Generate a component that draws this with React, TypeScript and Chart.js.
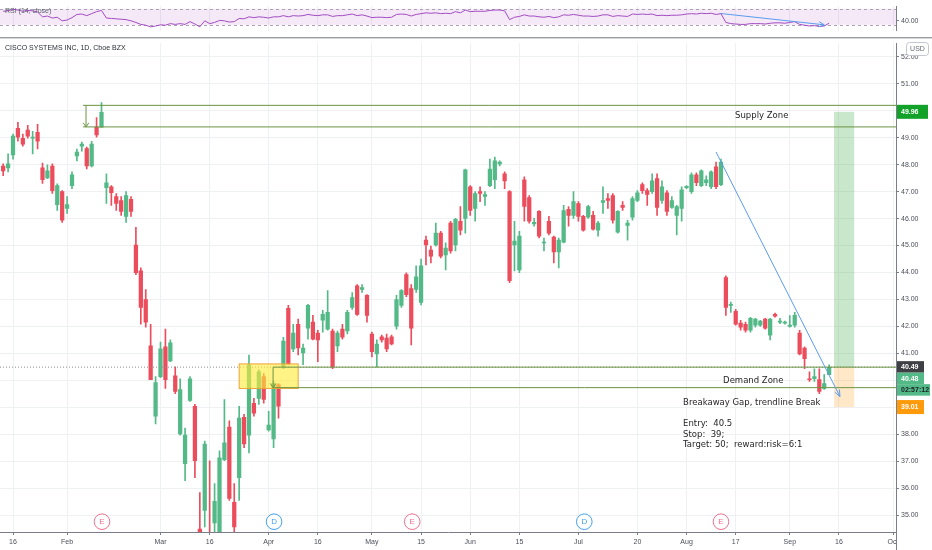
import React, { useEffect, useRef } from "react";
import { Chart, registerables } from "chart.js";

Chart.register(...registerables);

// ---------- DATA ----------
const OPEN = [
  47.95, 47.88, 48.36, 49.35, 48.98, 49.28, 48.98, 49.20, 47.88, 47.51,
  47.95, 46.52, 47.00, 46.38, 47.22, 48.32, 48.69, 48.60, 47.95, 49.39,
  49.39, 47.15, 47.18, 46.82, 46.67, 46.08, 46.71, 45.02, 44.06, 43.00,
  41.28, 38.67, 40.14, 41.24, 40.72, 40.17, 38.01, 36.91, 39.26, 39.04,
  34.48, 35.18, 34.10, 34.71, 34.30, 37.06, 38.27, 35.48, 36.39, 38.63,
  37.97, 39.15, 39.33, 40.14, 38.16, 37.83, 39.84, 40.50, 42.67, 41.17,
  42.08, 41.02, 41.94, 42.16, 41.75, 42.23, 41.90, 41.83, 41.28, 41.90,
  41.83, 42.71, 43.51, 43.37, 43.15, 41.72, 40.98, 41.61, 41.57, 41.61,
  42.01, 42.78, 43.92, 43.40, 43.37, 42.89, 45.20, 44.83, 45.02, 45.46,
  44.65, 45.83, 45.02, 45.90, 46.01, 47.18, 46.38, 47.00, 46.82, 47.22,
  47.44, 48.03, 47.66, 47.00, 45.02, 44.10, 47.44, 46.78, 45.80, 46.27,
  45.10, 45.90, 45.31, 44.76, 45.13, 46.34, 46.12, 46.56, 46.08, 46.05,
  46.12, 45.57, 46.60, 46.74, 46.85, 45.50, 46.49, 45.75, 46.05, 46.67,
  47.26, 47.04, 47.00, 47.48, 46.67, 46.96, 46.41, 46.12, 46.38, 47.15,
  47.00, 47.62, 47.22, 47.33, 47.18, 47.92, 47.26, 43.81, 42.78, 42.56,
  42.12, 42.08, 41.86, 42.05, 42.05, 42.27, 41.68, 42.45, 42.16, 42.12,
  42.00, 42.05, 41.75, 41.20, 40.06, 40.06, 40.03, 39.70, 40.21,
];
const HIGH = [
  48.03, 48.40, 49.13, 49.57, 49.13, 49.46, 49.24, 49.50, 48.06, 47.99,
  48.03, 47.29, 47.04, 46.82, 47.73, 48.58, 48.84, 48.65, 48.87, 49.75,
  50.30, 47.66, 47.22, 46.93, 46.82, 47.00, 46.82, 45.68, 44.17, 43.37,
  42.08, 40.14, 41.42, 41.90, 41.50, 40.50, 40.06, 38.23, 40.14, 39.11,
  35.84, 37.75, 37.02, 36.17, 37.39, 39.29, 38.50, 36.17, 39.04, 38.74,
  40.94, 39.33, 40.39, 40.25, 38.85, 39.96, 39.88, 41.60, 42.78, 42.08,
  42.27, 41.35, 42.82, 42.41, 41.86, 42.60, 43.33, 41.90, 41.83, 42.08,
  42.60, 43.26, 43.55, 43.55, 43.18, 41.79, 41.50, 41.68, 41.72, 41.68,
  43.15, 43.37, 43.99, 43.55, 44.25, 44.50, 45.35, 44.98, 45.83, 45.53,
  45.10, 45.90, 46.01, 46.45, 47.84, 47.22, 47.00, 47.18, 47.00, 48.21,
  48.28, 48.14, 47.73, 47.04, 45.90, 45.53, 47.55, 46.85, 46.01, 46.30,
  45.28, 46.08, 45.35, 45.28, 46.49, 46.45, 47.00, 46.63, 46.12, 46.49,
  46.27, 45.90, 47.18, 46.93, 46.93, 46.30, 46.63, 45.94, 46.82, 47.04,
  47.33, 47.11, 47.66, 47.66, 47.40, 47.04, 46.82, 46.49, 47.18, 47.22,
  47.70, 47.70, 47.81, 47.59, 47.77, 48.10, 48.21, 43.88, 42.90, 42.63,
  42.23, 42.16, 42.34, 42.30, 42.23, 42.30, 42.30, 42.50, 42.30, 42.20,
  42.40, 42.52, 41.86, 41.24, 40.32, 40.43, 40.43, 40.21, 40.58,
];
const LOW = [
  47.59, 47.73, 48.20, 48.87, 48.69, 48.98, 48.40, 48.58, 47.30, 47.48,
  46.93, 46.30, 45.86, 46.19, 47.11, 48.14, 48.50, 47.84, 47.92, 49.02,
  49.39, 46.56, 46.49, 46.30, 46.12, 45.86, 46.08, 43.92, 42.08, 41.97,
  40.03, 38.38, 40.10, 39.70, 40.69, 39.51, 37.97, 36.28, 39.22, 36.39,
  34.00, 34.56, 33.20, 34.30, 34.00, 37.02, 35.55, 34.20, 35.55, 37.50,
  37.31, 38.67, 39.11, 39.15, 38.12, 37.50, 38.60, 40.43, 40.58, 41.06,
  40.94, 40.58, 41.53, 41.50, 40.69, 41.79, 41.86, 40.43, 41.06, 41.53,
  41.72, 42.63, 42.41, 43.26, 42.16, 40.87, 40.50, 41.42, 41.06, 41.31,
  41.90, 42.71, 43.10, 41.31, 43.26, 42.80, 44.28, 44.36, 44.98, 44.54,
  44.10, 44.72, 44.80, 45.39, 45.46, 46.12, 45.90, 46.63, 46.49, 47.18,
  47.11, 47.95, 47.11, 43.62, 44.06, 43.99, 45.90, 45.83, 45.72, 45.28,
  44.80, 45.39, 44.36, 44.17, 45.10, 45.72, 46.01, 45.90, 45.53, 46.01,
  45.57, 45.35, 46.19, 46.38, 45.83, 45.46, 46.30, 45.20, 45.94, 46.63,
  46.93, 46.49, 46.93, 46.12, 46.56, 46.12, 46.38, 45.39, 45.90, 47.11,
  46.93, 47.22, 47.18, 47.22, 47.11, 47.11, 47.22, 42.41, 42.52, 42.05,
  41.86, 41.79, 41.79, 41.97, 42.00, 41.90, 41.50, 42.34, 42.10, 42.08,
  41.97, 41.97, 40.94, 40.43, 39.96, 39.96, 39.51, 39.66, 40.21,
];
const CLOSE = [
  47.77, 48.03, 49.06, 49.02, 48.76, 49.06, 49.02, 48.87, 47.44, 47.77,
  47.04, 47.22, 45.94, 46.52, 47.62, 48.47, 48.76, 47.95, 48.76, 49.10,
  49.94, 47.33, 46.96, 46.56, 46.27, 46.85, 46.27, 43.99, 42.71, 42.16,
  40.03, 39.92, 41.17, 40.03, 41.39, 39.59, 39.66, 37.97, 40.06, 37.02,
  34.20, 37.64, 33.60, 35.51, 37.13, 37.68, 35.62, 34.56, 38.60, 37.64,
  40.58, 38.78, 40.32, 39.29, 38.34, 39.88, 39.04, 41.46, 40.61, 41.75,
  41.20, 41.20, 42.78, 41.53, 41.50, 42.45, 42.52, 40.50, 41.75, 41.60,
  42.52, 43.07, 42.45, 43.44, 42.41, 41.06, 41.35, 41.50, 41.17, 41.35,
  43.00, 43.33, 43.18, 41.94, 43.84, 44.25, 45.02, 44.61, 45.46, 44.61,
  44.91, 44.80, 45.97, 45.57, 47.81, 46.30, 46.93, 46.93, 46.89, 47.84,
  48.14, 48.10, 47.40, 43.70, 45.17, 45.35, 46.45, 45.90, 45.86, 45.35,
  45.13, 45.46, 44.76, 45.20, 46.30, 46.12, 46.63, 46.08, 45.57, 46.45,
  45.61, 45.83, 46.67, 46.67, 45.94, 46.27, 46.41, 45.83, 46.74, 46.96,
  47.04, 46.90, 47.40, 46.41, 47.18, 46.27, 46.67, 46.45, 47.07, 47.20,
  47.62, 47.33, 47.77, 47.44, 47.73, 47.18, 48.10, 42.71, 42.82, 42.08,
  41.97, 41.86, 42.30, 42.27, 42.20, 41.94, 42.27, 42.38, 42.20, 42.16,
  42.05, 42.41, 40.98, 40.80, 40.03, 40.14, 39.59, 39.88, 40.48,
];
const RSI = [
  64, 65, 69, 67, 64, 66, 65, 62, 50, 52,
  47, 49, 40, 42, 48, 56, 57, 53, 58, 63,
  66, 47, 46, 45, 44, 43, 40, 36, 31, 29,
  25, 27, 30, 29, 33, 31, 33, 31, 38, 32,
  25, 40, 33, 36, 41, 40, 37, 38, 46, 45,
  50, 48, 50, 49, 47, 50, 50, 53, 50, 53,
  52, 53, 56, 54, 53, 55, 55, 51, 53, 53,
  55, 57, 53, 55, 52, 48, 49, 49, 48, 49,
  56, 57, 56, 52, 56, 58, 60, 59, 60, 58,
  59, 58, 63, 60, 67, 63, 64, 64, 64, 66,
  67, 67, 65, 43, 49, 51, 55, 52, 52, 50,
  49, 51, 48, 50, 55, 54, 56, 54, 52, 52,
  51, 52, 55, 55, 51, 53, 52, 51, 57, 56,
  57, 56, 57, 53, 54, 53, 54, 54, 55, 57,
  58, 57, 59, 58, 59, 56, 58, 36, 33, 32,
  31, 31, 33, 33, 33, 32, 34, 35, 35, 34,
  36, 38, 31, 29, 27, 28, 26, 27, 34,
];

// trading-day index of each time-axis label
const X_TICKS = [2, 13, 32, 42, 54, 64, 75, 85, 95, 105, 117, 129, 139, 149, 160, 170, 181];
const X_TICK_LABELS = ["16", "Feb", "Mar", "16", "Apr", "16", "May", "15", "Jun", "15", "Jul", "20", "Aug", "17", "Sep", "16", "Oct"];
const PRICE_TICKS = [35, 36, 37, 38, 39, 40, 41, 42, 43, 44, 45, 46, 47, 48, 49, 50, 51, 52];

// drawings (in index / price units)
const SUPPLY_TOP = 50.2;
const SUPPLY_BOTTOM = 49.4;
const SUPPLY_START = 16.25;
const SUPPLY_ARROW_X = 16.85;
const DEMAND_TOP = 40.49;
const DEMAND_BOTTOM = 39.73;
const DEMAND_START = 54.9;
const GAP_BOX = { x0: 48.0, x1: 60.0, top: 40.61, bottom: 39.7 };
const TREND = { x0: 145.0, y0: 48.47, x1: 170.2, y1: 39.4 };
const RSI_TREND = { x0: 146.0, y0: 58.3, x1: 167.0, y1: 30 };
const TARGET = 49.96;
const ENTRY = 40.49;
const STOP = 39.01;
const LAST = 40.48;
const POS_X0 = 169.0;
const POS_X1 = 173.1;
const EVENTS = [
  { i: 20.1, t: "E" },
  { i: 55.1, t: "D" },
  { i: 83.2, t: "E" },
  { i: 118.2, t: "D" },
  { i: 146.0, t: "E" },
];
const NOTES = [
  { i: 148.87, p: 49.83, text: "Supply Zone" },
  { i: 146.43, p: 39.99, text: "Demand Zone" },
  { i: 138.29, p: 39.18, text: "Breakaway Gap, trendline Break" },
  { i: 138.29, p: 38.39, text: "Entry:  40.5" },
  { i: 138.29, p: 37.99, text: "Stop:  39;" },
  { i: 138.29, p: 37.61, text: "Target: 50;  reward:risk=6:1" },
];

// ---------- STYLE ----------
const X_MIN = -0.645;
const X_MAX = 181.6;
const Y_MIN = 34.376;
const Y_MAX = 52.505;
const UP = "#53b987";
const DOWN = "#eb4d5c";
const AXIS_FONT = "'Liberation Sans', Arial, sans-serif";
const NOTE_FONT = "'DejaVu Sans', Verdana, sans-serif";
const GRID = "#eef0f4";
const AXIS_LINE = "#7b7e88";
const LABEL = "#4c4f5a";
const ZONE = "#6b9440";
const TRENDC = "#5a9cf0";

function arrowHead(ctx: CanvasRenderingContext2D, x1: number, y1: number, x2: number, y2: number, len = 6, ang = 0.45) {
  const a = Math.atan2(y2 - y1, x2 - x1);
  ctx.beginPath();
  ctx.moveTo(x2 - len * Math.cos(a - ang), y2 - len * Math.sin(a - ang));
  ctx.lineTo(x2, y2);
  ctx.lineTo(x2 - len * Math.cos(a + ang), y2 - len * Math.sin(a + ang));
  ctx.stroke();
}
function seg(ctx: CanvasRenderingContext2D, x1: number, y1: number, x2: number, y2: number) {
  ctx.beginPath();
  ctx.moveTo(x1, y1);
  ctx.lineTo(x2, y2);
  ctx.stroke();
}
function priceBox(ctx: CanvasRenderingContext2D, y: number, h: number, w: number, fill: string, text: string, color: string) {
  ctx.fillStyle = fill;
  ctx.fillRect(897, y, w, h);
  ctx.fillStyle = color;
  ctx.font = `bold 7px ${AXIS_FONT}`;
  ctx.textAlign = "left";
  ctx.textBaseline = "middle";
  ctx.fillText(text, 901, y + h / 2 + 0.5);
}

const candleColor = (i: number) => (CLOSE[i] >= OPEN[i] ? UP : DOWN);

const mainPlugin = {
  id: "mainDrawings",
  beforeDatasetsDraw(chart: any) {
    const { ctx, scales } = chart;
    const px = (v: number) => scales.x.getPixelForValue(v);
    const py = (v: number) => scales.y.getPixelForValue(v);
    ctx.save();
    ctx.fillStyle = "rgba(76,175,80,0.3)";
    ctx.fillRect(px(POS_X0), py(TARGET), px(POS_X1) - px(POS_X0), py(ENTRY) - py(TARGET));
    ctx.fillStyle = "rgba(255,152,0,0.22)";
    ctx.fillRect(px(POS_X0), py(ENTRY), px(POS_X1) - px(POS_X0), py(STOP) - py(ENTRY));
    ctx.restore();
  },
  afterDatasetsDraw(chart: any) {
    const { ctx, chartArea: ca, scales } = chart;
    const px = (v: number) => scales.x.getPixelForValue(v);
    const py = (v: number) => scales.y.getPixelForValue(v);
    ctx.save();
    ctx.beginPath();
    ctx.rect(ca.left, ca.top, ca.right - ca.left, ca.bottom - ca.top);
    ctx.clip();

    // horizontal dotted line at entry
    ctx.strokeStyle = "#8d9099";
    ctx.lineWidth = 1;
    ctx.setLineDash([1, 2]);
    seg(ctx, ca.left, py(ENTRY), ca.right, py(ENTRY));
    ctx.setLineDash([]);

    // gap box
    const bx0 = px(GAP_BOX.x0), bx1 = px(GAP_BOX.x1), by0 = py(GAP_BOX.top), by1 = py(GAP_BOX.bottom);
    ctx.fillStyle = "rgba(255,236,60,0.62)";
    ctx.fillRect(bx0, by0, bx1 - bx0, by1 - by0);
    ctx.strokeStyle = "#eda43a";
    ctx.strokeRect(bx0, by0, bx1 - bx0, by1 - by0);

    // zones
    ctx.strokeStyle = ZONE;
    ctx.lineWidth = 1;
    seg(ctx, px(SUPPLY_START), py(SUPPLY_TOP), ca.right, py(SUPPLY_TOP));
    seg(ctx, px(SUPPLY_START), py(SUPPLY_BOTTOM), ca.right, py(SUPPLY_BOTTOM));
    seg(ctx, px(SUPPLY_ARROW_X), py(SUPPLY_TOP), px(SUPPLY_ARROW_X), py(SUPPLY_BOTTOM));
    arrowHead(ctx, px(SUPPLY_ARROW_X), py(SUPPLY_TOP), px(SUPPLY_ARROW_X), py(SUPPLY_BOTTOM), 5, 0.6);
    seg(ctx, px(DEMAND_START), py(DEMAND_TOP), ca.right, py(DEMAND_TOP));
    seg(ctx, px(DEMAND_START), py(DEMAND_BOTTOM), ca.right, py(DEMAND_BOTTOM));
    seg(ctx, px(DEMAND_START), py(DEMAND_TOP), px(DEMAND_START), py(DEMAND_BOTTOM));
    arrowHead(ctx, px(DEMAND_START), py(DEMAND_TOP), px(DEMAND_START), py(DEMAND_BOTTOM), 5, 0.6);

    // trendline
    ctx.strokeStyle = TRENDC;
    seg(ctx, px(TREND.x0), py(TREND.y0), px(TREND.x1), py(TREND.y1));
    arrowHead(ctx, px(TREND.x0), py(TREND.y0), px(TREND.x1), py(TREND.y1), 7, 0.4);

    // notes
    ctx.fillStyle = "#262626";
    ctx.font = `8.5px ${NOTE_FONT}`;
    ctx.textAlign = "left";
    ctx.textBaseline = "middle";
    NOTES.forEach((n) => ctx.fillText(n.text, px(n.i), py(n.p)));

    // event markers
    const ey = ca.bottom - 10.3;
    EVENTS.forEach((e) => {
      const c = e.t === "E" ? "#ec6f8e" : "#3f9ff0";
      ctx.beginPath();
      ctx.arc(px(e.i), ey, 7.8, 0, Math.PI * 2);
      ctx.fillStyle = "#ffffff";
      ctx.fill();
      ctx.strokeStyle = c;
      ctx.lineWidth = 1;
      ctx.stroke();
      ctx.fillStyle = c;
      ctx.font = `8px ${AXIS_FONT}`;
      ctx.textAlign = "center";
      ctx.fillText(e.t, px(e.i), ey + 0.5);
    });

    // title
    ctx.fillStyle = "#2a2e39";
    ctx.font = `7px ${AXIS_FONT}`;
    ctx.textAlign = "left";
    ctx.fillText("CISCO SYSTEMS INC, 1D, Cboe BZX", 5, 11);
    ctx.restore();
  },
  afterDraw(chart: any) {
    const { ctx, chartArea: ca, scales } = chart;
    const py = (v: number) => scales.y.getPixelForValue(v);
    ctx.save();
    // pane separator
    ctx.fillStyle = "#9a9ca3";
    ctx.fillRect(0, 0, chart.width, 1.4);
    // clip the last time label at the price axis
    ctx.fillStyle = "#ffffff";
    ctx.fillRect(ca.right + 0.6, ca.bottom + 1, chart.width - ca.right, chart.height - ca.bottom);
    ctx.fillStyle = AXIS_LINE;
    ctx.fillRect(ca.right, ca.bottom, 1, chart.height - ca.bottom);

    // price labels
    priceBox(ctx, py(TARGET) - 7, 14, 31, "#12a22a", TARGET.toFixed(2), "#ffffff");
    const ey = py(ENTRY);
    priceBox(ctx, ey - 6, 11.5, 27, "#3e3f44", ENTRY.toFixed(2), "#ffffff");
    priceBox(ctx, ey + 5.5, 11.5, 27, UP, LAST.toFixed(2), "#ffffff");
    priceBox(ctx, ey + 17, 11.5, 33, UP, "02:57:12", "#1d1f24");
    priceBox(ctx, py(STOP) - 7, 14, 27, "#ff9a0a", STOP.toFixed(2), "#ffffff");

    // currency
    ctx.fillStyle = "#ffffff";
    ctx.strokeStyle = "#c3c6ce";
    ctx.lineWidth = 1;
    ctx.beginPath();
    (ctx as any).roundRect(906.5, 5.5, 22, 13, 3);
    ctx.fill();
    ctx.stroke();
    ctx.fillStyle = "#6a6d78";
    ctx.font = `7px ${AXIS_FONT}`;
    ctx.textAlign = "center";
    ctx.textBaseline = "middle";
    ctx.fillText("USD", 917.5, 12.5);
    ctx.restore();
  },
};

const rsiPlugin = {
  id: "rsiDrawings",
  beforeDatasetsDraw(chart: any) {
    const { ctx, chartArea: ca, scales } = chart;
    const py = (v: number) => scales.y.getPixelForValue(v);
    ctx.save();
    ctx.fillStyle = "rgba(156,39,176,0.1)";
    ctx.fillRect(ca.left, py(70), ca.right - ca.left, py(30) - py(70));
    ctx.strokeStyle = "#aaa2b4";
    ctx.lineWidth = 1;
    ctx.setLineDash([3, 3]);
    seg(ctx, ca.left, Math.round(py(70)) + 0.5, ca.right, Math.round(py(70)) + 0.5);
    seg(ctx, ca.left, Math.round(py(30)) + 0.5, ca.right, Math.round(py(30)) + 0.5);
    ctx.restore();
  },
  afterDatasetsDraw(chart: any) {
    const { ctx, scales } = chart;
    const px = (v: number) => scales.x.getPixelForValue(v);
    const py = (v: number) => scales.y.getPixelForValue(v);
    ctx.save();
    ctx.strokeStyle = TRENDC;
    ctx.lineWidth = 1;
    seg(ctx, px(RSI_TREND.x0), py(RSI_TREND.y0), px(RSI_TREND.x1), py(RSI_TREND.y1));
    arrowHead(ctx, px(RSI_TREND.x0), py(RSI_TREND.y0), px(RSI_TREND.x1), py(RSI_TREND.y1), 6, 0.45);
    ctx.fillStyle = "#5d606b";
    ctx.font = `7px ${AXIS_FONT}`;
    ctx.textAlign = "left";
    ctx.textBaseline = "middle";
    ctx.fillText("RSI (14, close)", 5, 11);
    ctx.restore();
  },
};

export default function App() {
  const rsiRef = useRef<HTMLCanvasElement>(null);
  const mainRef = useRef<HTMLCanvasElement>(null);

  useEffect(() => {
    document.body.style.margin = "0";
    document.body.style.background = "#ffffff";
    const idx = OPEN.map((_, i) => i);

    const xTicksCallback = (v: any) => {
      const k = X_TICKS.indexOf(Number(v));
      return k >= 0 ? X_TICK_LABELS[k] : "";
    };

    const rsiChart = new Chart(rsiRef.current as HTMLCanvasElement, {
      type: "line",
      data: {
        datasets: [
          {
            data: RSI.map((v, i) => ({ x: i, y: v })),
            borderColor: "#a24cc2",
            borderWidth: 1,
            pointRadius: 0,
            tension: 0,
            fill: false,
          },
        ],
      },
      options: {
        animation: false,
        responsive: false,
        devicePixelRatio: 1,
        layout: { padding: 0 },
        plugins: { legend: { display: false }, tooltip: { enabled: false } },
        events: [],
        scales: {
          x: {
            type: "linear",
            min: X_MIN,
            max: X_MAX,
            afterBuildTicks: (s: any) => {
              s.ticks = X_TICKS.map((v) => ({ value: v }));
            },
            ticks: { display: false },
            grid: { color: GRID, drawTicks: false },
            border: { display: false },
            afterFit: (s: any) => {
              s.height = 0;
            },
          },
          y: {
            type: "linear",
            position: "right",
            min: 15,
            max: 76.667,
            afterBuildTicks: (s: any) => {
              s.ticks = [{ value: 40 }];
            },
            ticks: {
              callback: (v: any) => Number(v).toFixed(2),
              font: { size: 7, family: AXIS_FONT },
              color: LABEL,
              padding: 2,
            },
            grid: { drawOnChartArea: false, tickLength: 3, tickColor: AXIS_LINE },
            border: { color: AXIS_LINE },
            afterFit: (s: any) => {
              s.width = 36;
            },
          },
        },
      } as any,
      plugins: [rsiPlugin],
    });

    const mainChart = new Chart(mainRef.current as HTMLCanvasElement, {
      type: "bar",
      data: {
        datasets: [
          {
            label: "body",
            data: idx.map((i) => ({ x: i, y: [OPEN[i], CLOSE[i]] })) as any,
            backgroundColor: idx.map(candleColor),
            barThickness: 3.6,
            grouped: false,
            order: 0,
          } as any,
          {
            label: "wick",
            data: idx.map((i) => ({ x: i, y: [LOW[i], HIGH[i]] })) as any,
            backgroundColor: idx.map(candleColor),
            barThickness: 1,
            grouped: false,
            order: 1,
          } as any,
        ],
      },
      options: {
        animation: false,
        responsive: false,
        devicePixelRatio: 1,
        layout: { padding: { top: 1, left: 0, right: 0, bottom: 0 } },
        plugins: { legend: { display: false }, tooltip: { enabled: false } },
        events: [],
        scales: {
          x: {
            type: "linear",
            min: X_MIN,
            max: X_MAX,
            offset: false,
            afterBuildTicks: (s: any) => {
              s.ticks = X_TICKS.map((v) => ({ value: v }));
            },
            ticks: {
              callback: xTicksCallback,
              autoSkip: false,
              maxRotation: 0,
              font: { size: 7, family: AXIS_FONT },
              color: LABEL,
              padding: 3,
            },
            grid: { color: GRID, offset: false, tickLength: 3, tickColor: AXIS_LINE },
            border: { color: AXIS_LINE, width: 1 },
            afterFit: (s: any) => {
              s.height = 18;
            },
          },
          y: {
            type: "linear",
            position: "right",
            min: Y_MIN,
            max: Y_MAX,
            afterBuildTicks: (s: any) => {
              s.ticks = PRICE_TICKS.map((v) => ({ value: v }));
            },
            ticks: {
              callback: (v: any) => Number(v).toFixed(2),
              font: { size: 7, family: AXIS_FONT },
              color: LABEL,
              padding: 2,
            },
            grid: { color: GRID, tickLength: 3, tickColor: AXIS_LINE },
            border: { color: AXIS_LINE },
            afterFit: (s: any) => {
              s.width = 36;
            },
          },
        },
      } as any,
      plugins: [mainPlugin],
    });

    return () => {
      rsiChart.destroy();
      mainChart.destroy();
    };
  }, []);

  return (
    <div style={{ width: 932, height: 550, background: "#ffffff" }}>
      <canvas ref={rsiRef} width={932} height={37} style={{ display: "block", width: 932, height: 37 }} />
      <canvas ref={mainRef} width={932} height={513} style={{ display: "block", width: 932, height: 513 }} />
    </div>
  );
}
